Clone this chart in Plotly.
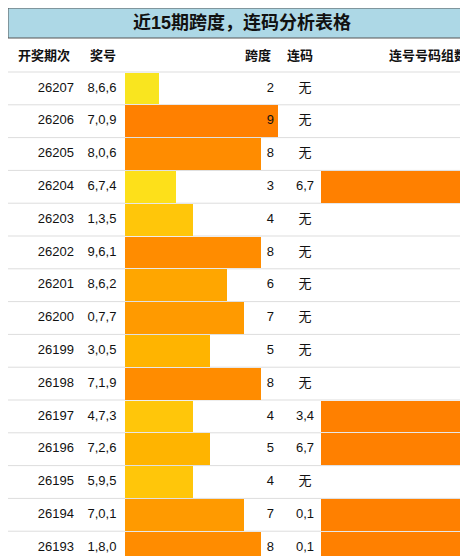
import plotly.graph_objects as go

periods = ["26207", "26206", "26205", "26204", "26203", "26202", "26201", "26200",
           "26199", "26198", "26197", "26196", "26195", "26194", "26193"]
numbers = ["8,6,6", "7,0,9", "8,0,6", "6,7,4", "1,3,5", "9,6,1", "8,6,2", "0,7,7",
           "3,0,5", "7,1,9", "4,7,3", "7,2,6", "5,9,5", "7,0,1", "1,8,0"]
spans = [2, 9, 8, 3, 4, 8, 6, 7, 5, 8, 4, 5, 4, 7, 8]
consec = ["无", "无", "无", "6,7", "无", "无", "无", "无", "无", "无", "3,4", "6,7", "无", "0,1", "0,1"]
groups = [0, 0, 0, 1, 0, 0, 0, 0, 0, 0, 1, 1, 0, 1, 1]

W, H = 468, 556
TOP = 64
RH = (H - TOP) / len(periods)
span_colors = {2: "#f9e51f", 3: "#fde01a", 4: "#ffc60a", 5: "#ffb400", 6: "#ffa600",
               7: "#ff9a00", 8: "#ff8c00", 9: "#ff8000"}
ys = [TOP + RH * (i + 0.5) for i in range(len(periods))]
font = "Liberation Sans, Noto Sans CJK SC"
tf = dict(size=13, color="#111", family=font)

fig = go.Figure()
fig.add_trace(go.Bar(x=spans, y=ys, orientation="h", width=RH - 1, xaxis="x2",
                     marker=dict(color=[span_colors[s] for s in spans], line_width=0)))
fig.add_trace(go.Bar(x=groups, y=ys, orientation="h", width=RH - 1, xaxis="x3",
                     marker=dict(color="#ff8000", line_width=0)))


def col(x, texts, pos, axis="x"):
    fig.add_trace(go.Scatter(x=[x] * len(texts), y=ys, text=texts, mode="text", xaxis=axis,
                             textposition=pos, textfont=tf, cliponaxis=False))


col(66, periods, "middle left")
col(94, numbers, "middle center")
col(297, consec, "middle center")
col(9 * 149 / 153, [str(s) for s in spans], "middle left", "x2")
col(148 / 155, [str(g) for g in groups], "middle left", "x3")

shapes = [dict(type="rect", xref="x", yref="y", x0=0, x1=W, y0=0, y1=30,
               fillcolor="#add8e6", line=dict(color="#555", width=1), layer="below")]
for i in range(len(periods) + 1):
    y = TOP + RH * i
    shapes.append(dict(type="line", xref="x", yref="y", x0=0, x1=W, y0=y, y1=y,
                       line=dict(color="#dddddd", width=1), layer="below"))

ann = [dict(x=W / 2, y=15, text="<b>近15期跨度，连码分析表格</b>", font=dict(size=18, color="#111", family=font))]
hdr = [(8, "开奖期次", "left"), (95, "奖号", "center"), (265, "跨度", "right"),
       (292, "连码", "center"), (461, "连号号码组数", "right")]
for x, t, a in hdr:
    ann.append(dict(x=x, y=47, text="<b>" + t + "</b>", xanchor=a, font=tf))
for a in ann:
    a.update(xref="x", yref="y", showarrow=False)

fig.update_layout(
    width=W, height=H, margin=dict(l=0, r=0, t=0, b=0),
    paper_bgcolor="white", plot_bgcolor="rgba(0,0,0,0)", showlegend=False, bargap=0,
    xaxis=dict(range=[0, W], visible=False, domain=[0, 1]),
    xaxis2=dict(range=[0, 9], visible=False, domain=[117 / W, 270 / W], anchor="y"),
    xaxis3=dict(range=[0, 1], visible=False, domain=[313 / W, 1], anchor="y"),
    yaxis=dict(range=[H, 0], visible=False),
    shapes=shapes, annotations=ann,
)
fig.write_html("out.html")
